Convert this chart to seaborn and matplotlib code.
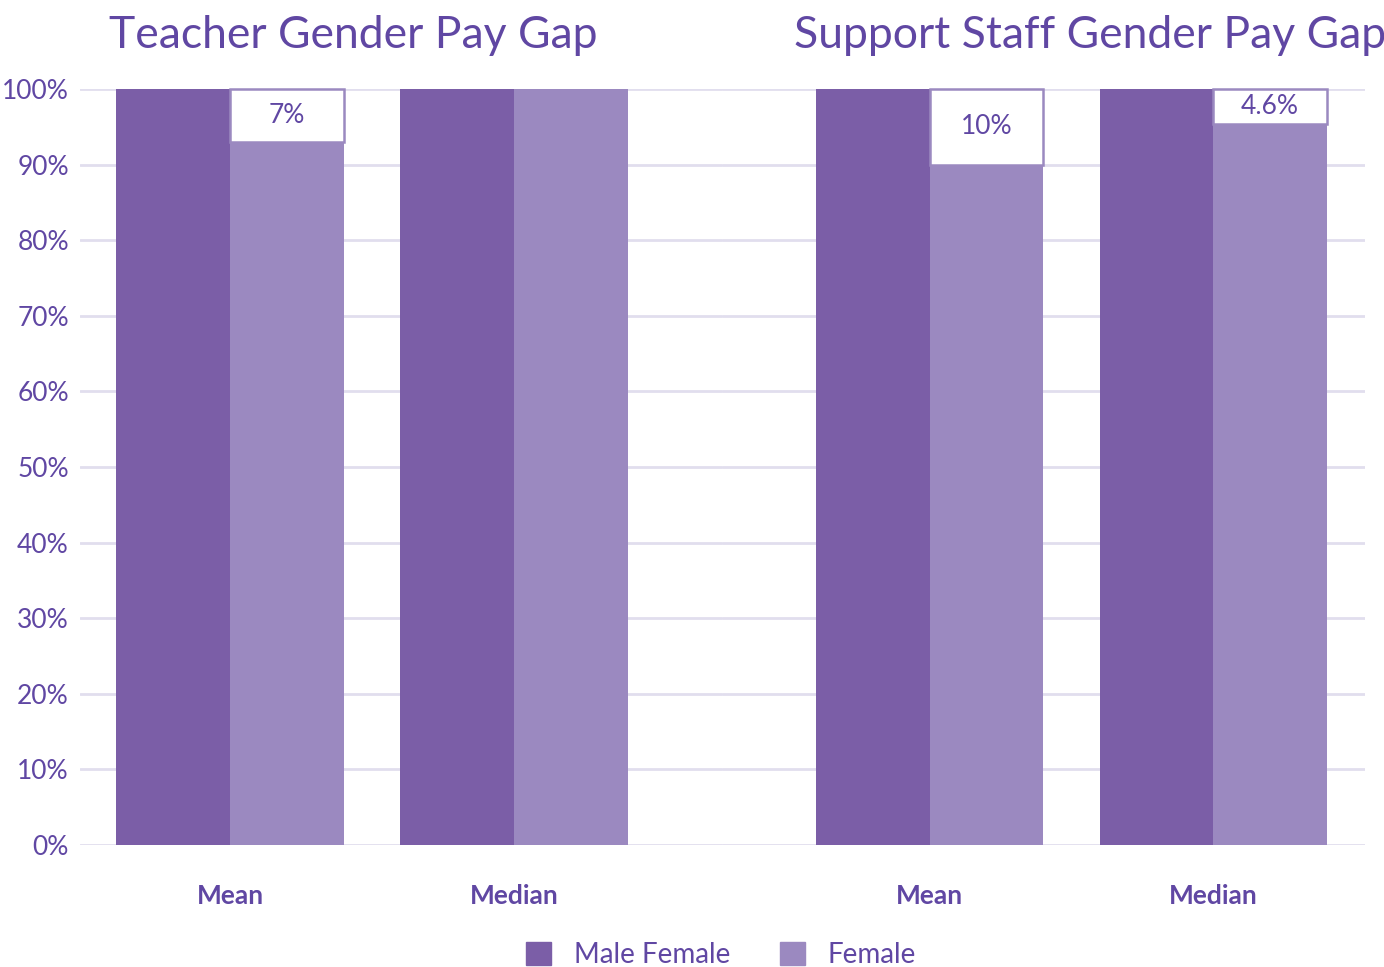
import pandas as pd
import matplotlib.pyplot as plt
from matplotlib.patches import Rectangle
import seaborn as sns

# chart values
panels = ["Teacher Gender Pay Gap", "Support Staff Gender Pay Gap"]
measures = ["Mean", "Median"]
male_vals = [100, 100, 100, 100]
female_vals = [93, 100, 90, 95.4]
gap_labels = ["7%", "", "10%", "4.6%"]
yticks = [0, 10, 20, 30, 40, 50, 60, 70, 80, 90, 100]

MALE = "#7b5ea7"
FEMALE = "#9b89c0"
TXT = "#6047a3"
GRID = "#e1deee"

sns.set_theme(style="white")
plt.rcParams["font.family"] = ["Lato", "DejaVu Sans"]

rows = []
for i, p in enumerate(panels):
    for j, m in enumerate(measures):
        k = i * 2 + j
        rows.append({"panel": p, "measure": m, "gender": "Male Female", "value": male_vals[k]})
        rows.append({"panel": p, "measure": m, "gender": "Female", "value": female_vals[k]})
df = pd.DataFrame(rows)

fig = plt.figure(figsize=(13.84, 9.67), dpi=100)
split = 722 / 1384
bottom, top = 1 - 845 / 967, 1 - 89 / 967
ax1 = fig.add_axes([80 / 1384, bottom, split - 80 / 1384, top - bottom])
ax2 = fig.add_axes([split, bottom, 1365 / 1384 - split, top - bottom])

xlims = [(-0.528, 1.732), (-0.733, 1.535)]
title_x = [353, 1090]

for i, ax in enumerate([ax1, ax2]):
    sub = df[df.panel == panels[i]]
    sns.barplot(data=sub, x="measure", y="value", hue="gender", order=measures,
                hue_order=["Male Female", "Female"], palette=[MALE, FEMALE],
                saturation=1, width=0.8, ax=ax, legend=False, linewidth=0, zorder=2)
    ax.set_xlim(*xlims[i])
    ax.set_ylim(0, 100)
    ax.set_yticks(yticks)
    ax.yaxis.grid(True, color=GRID, lw=2, zorder=0)
    ax.set_axisbelow(True)
    for s in ax.spines.values():
        s.set_visible(False)
    ax.set_xlabel("")
    ax.set_ylabel("")
    ax.tick_params(axis="x", length=0, pad=28, labelsize=19, labelcolor=TXT)
    for t in ax.get_xticklabels():
        t.set_fontweight("bold")
    ax.tick_params(axis="y", length=0, pad=8, labelsize=19, labelcolor=TXT)
    if i == 0:
        ax.set_yticklabels([f"{v}%" for v in yticks])
    else:
        ax.set_yticklabels([])
    # gap boxes on the female bars
    for j in range(2):
        k = i * 2 + j
        if gap_labels[k]:
            fv = female_vals[k]
            ax.add_patch(Rectangle((j, fv), 0.4, 100 - fv, facecolor="white",
                                   edgecolor=FEMALE, lw=1.8, zorder=3, clip_on=False))
            ax.text(j + 0.2, (fv + 100) / 2, gap_labels[k], ha="center", va="center",
                    fontsize=19, color=TXT, zorder=4)
    fig.text(title_x[i] / 1384, 1 - 36 / 967, panels[i], ha="center", va="center",
             fontsize=32, color=TXT)

handles = [Rectangle((0, 0), 1, 1, color=MALE), Rectangle((0, 0), 1, 1, color=FEMALE)]
leg = fig.legend(handles, ["Male Female", "Female"], loc="center", ncol=2,
                 bbox_to_anchor=(721 / 1384, 1 - 955 / 967), frameon=False,
                 handlelength=0.9, handleheight=0.9, handletextpad=0.8, columnspacing=1.8,
                 prop={"size": 20})
for t in leg.get_texts():
    t.set_color(TXT)

fig.savefig("out.png", dpi=100)
